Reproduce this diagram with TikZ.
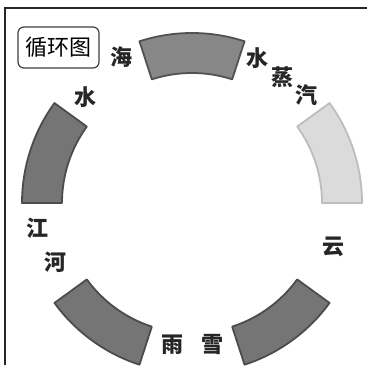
\documentclass[tikz,border=0pt]{standalone}
\usepackage{fontspec}
\newfontfamily\cjk{Noto Sans CJK SC}
\begin{document}
\begin{tikzpicture}[x=1pt,y=1pt,
  seg/.style={line width=1.8pt, line join=round},
  darkseg/.style={seg, fill=black!54, draw=black!70},
  midseg/.style={seg, fill=black!47, draw=black!68},
  lightseg/.style={seg, fill=black!14, draw=black!26},
  lbl/.style={font=\cjk\fontsize{22}{22}\selectfont\bfseries, text=black!85, inner sep=0pt},
  titlebox/.style={draw=black!75, line width=1.2pt, rounded corners=6pt, fill=white,
    minimum width=81pt, minimum height=41pt, inner sep=0pt, font=\cjk\fontsize{22}{22}\selectfont}]
\useasboundingbox (0,0) rectangle (367,365);
\fill[white] (0,0) rectangle (367,365);
% frame edges
\draw[line width=1.8pt, black!85] (5,0) -- (5,357) -- (367,357);

% ring of five segments, 36 degrees each
\begin{scope}[shift={(192,162)}]
  \def\Ro{170}\def\Ri{130}
  \draw[lightseg] (0:\Ro) arc[start angle=0,end angle=36,radius=\Ro]
      -- (36:\Ri) arc[start angle=36,end angle=0,radius=\Ri] -- cycle;
  \draw[midseg] (72:\Ro) arc[start angle=72,end angle=108,radius=\Ro]
      -- (108:\Ri) arc[start angle=108,end angle=72,radius=\Ri] -- cycle;
  \draw[darkseg] (144:\Ro) arc[start angle=144,end angle=180,radius=\Ro]
      -- (180:\Ri) arc[start angle=180,end angle=144,radius=\Ri] -- cycle;
  \draw[darkseg] (216:\Ro) arc[start angle=216,end angle=252,radius=\Ro]
      -- (252:\Ri) arc[start angle=252,end angle=216,radius=\Ri] -- cycle;
  \draw[darkseg] (288:\Ro) arc[start angle=288,end angle=324,radius=\Ro]
      -- (324:\Ri) arc[start angle=324,end angle=288,radius=\Ri] -- cycle;
\end{scope}

% title
\node[titlebox] (title) at (58.5,317.5) {循环图};

% labels
\node[lbl] (hai) at (121,308) {海};
\node[lbl] (shui1) at (257,307) {水};
\node[lbl] (zheng) at (282,288) {蒸};
\node[lbl] (qi) at (306,270) {汽};
\node[lbl] (yun) at (333,118) {云};
\node[lbl] (yu) at (172,20) {雨};
\node[lbl] (xue) at (212,20) {雪};
\node[lbl] (jiang) at (37,137) {江};
\node[lbl] (he) at (55,103) {河};
\node[lbl] (shui2) at (85,268) {水};
\end{tikzpicture}
\end{document}
